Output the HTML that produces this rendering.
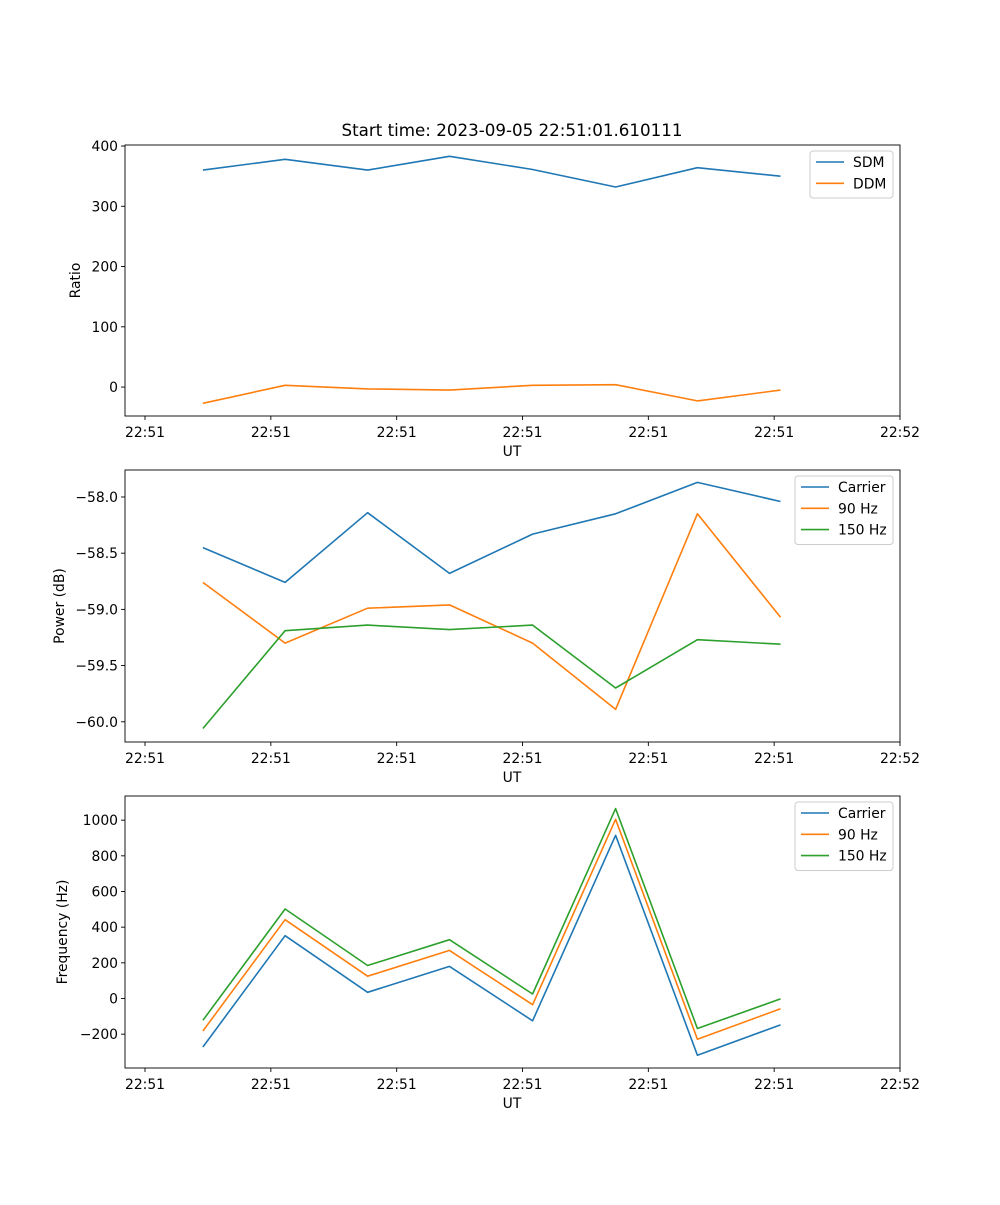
<!DOCTYPE html>
<html><head><meta charset="utf-8"><style>
body{margin:0;background:#fff}
svg text{font-family:"DejaVu Sans","Liberation Sans",sans-serif;font-size:13.9px;fill:#000}
</style></head><body>
<svg id="fig" width="1000" height="1200" viewBox="0 0 1000 1200" xmlns="http://www.w3.org/2000/svg">
<text x="512" y="136" text-anchor="middle" style="font-size:16.7px">Start time: 2023-09-05 22:51:01.610111</text>
</svg>
<script>
// time in seconds after 22:51:00
const times = [4.6, 11.13, 17.69, 24.2, 30.8, 37.4, 43.9, 50.5];
const xTickVals = [0, 10, 20, 30, 40, 50, 60];
const xTickLabels = ['22:51','22:51','22:51','22:51','22:51','22:51','22:52'];

const sdm = [360, 378, 360, 383, 361, 332, 364, 350];
const ddm = [-27, 3, -3, -5, 3, 4, -23, -5];
const ratioTicks = [0, 100, 200, 300, 400];
const ratioTickLabels = ['0','100','200','300','400'];

const powerCarrier = [-58.45, -58.76, -58.14, -58.68, -58.33, -58.15, -57.87, -58.04];
const power90 = [-58.76, -59.30, -58.99, -58.96, -59.30, -59.89, -58.15, -59.07];
const power150 = [-60.06, -59.19, -59.14, -59.18, -59.14, -59.70, -59.27, -59.31];
const powerTicks = [-60.0, -59.5, -59.0, -58.5, -58.0];
const powerTickLabels = ['\u221260.0','\u221259.5','\u221259.0','\u221258.5','\u221258.0'];

const freqCarrier = [-272, 352, 35, 180, -125, 915, -318, -148];
const freq90 = [-182, 442, 125, 270, -35, 1005, -228, -58];
const freq150 = [-122, 502, 185, 330, 25, 1065, -168, -2];
const freqTicks = [-200, 0, 200, 400, 600, 800, 1000];
const freqTickLabels = ['\u2212200','0','200','400','600','800','1000'];

const NS='http://www.w3.org/2000/svg';
const svg=document.getElementById('fig');
const L=125,R=900, X0=-1.59, X1=60.0;
const xs=v=>L+(v-X0)/(X1-X0)*(R-L);
function mk(tag,attrs,parent){const e=document.createElementNS(NS,tag);for(const k in attrs)e.setAttribute(k,attrs[k]);(parent||svg).appendChild(e);return e;}

function panel(id,top,bot,y0,y1,yTicks,yLabels,ylabel,ylabelX,series,legend){
  const g=mk('g',{});
  
  
  const ys=v=>bot-(v-y0)/(y1-y0)*(bot-top);
  series.forEach(s=>{
    const p=mk('polyline',{points:times.map((t,i)=>xs(t).toFixed(1)+','+ys(s.vals[i]).toFixed(1)).join(' '),fill:'none',stroke:s.color,'stroke-width':1.6,'stroke-linejoin':'round'},g);
    
    
  });
  const frame=mk('rect',{x:L,y:top,width:R-L,height:bot-top,fill:'none',stroke:'#000','stroke-width':0.9},g);
  
  
  xTickVals.forEach((v,i)=>{
    const x=xs(v);
    mk('line',{x1:x,x2:x,y1:bot,y2:bot+4,stroke:'#000','stroke-width':0.9},g);
    const t=mk('text',{x:x,y:bot+21,'text-anchor':'middle'},g);t.textContent=xTickLabels[i];
    
    
  });
  yTicks.forEach((v,i)=>{
    const y=ys(v);
    mk('line',{x1:L-4,x2:L,y1:y,y2:y,stroke:'#000','stroke-width':0.9},g);
    const t=mk('text',{x:L-7,y:y+5,'text-anchor':'end'},g);t.textContent=yLabels[i];
    
    
  });
  const xt=mk('text',{x:512,y:bot+40,'text-anchor':'middle'},g);xt.textContent='UT';
  
  
  const cy=(top+bot)/2;
  const yt=mk('text',{x:ylabelX,y:cy,'text-anchor':'middle',transform:'rotate(-90 '+ylabelX+' '+cy+')'},g);yt.textContent=ylabel;
  
  
  const lg=mk('g',{},g);
  
  
  mk('rect',{x:legend.x,y:top+6,width:R-7-legend.x,height:series.length*21.5+4,rx:3,fill:'#fff','fill-opacity':0.8,stroke:'#ccc','stroke-width':1},lg);
  series.forEach((s,i)=>{
    const y=top+17+i*21.3;
    mk('line',{x1:legend.x+6,x2:legend.x+34,y1:y,y2:y,stroke:s.color,'stroke-width':1.6},lg);
    const t=mk('text',{x:legend.x+43,y:y+5},lg);t.textContent=s.name;
    
    
  });
}
const C1='#1f77b4',C2='#ff7f0e',C3='#2ca02c';
panel('ratio',145,416,-48,401.7,ratioTicks,ratioTickLabels,'Ratio',80,
  [{key:'sdm',name:'SDM',vals:sdm,color:C1},{key:'ddm',name:'DDM',vals:ddm,color:C2}],{x:810});
panel('power',470,742,-60.18,-57.76,powerTicks,powerTickLabels,'Power (dB)',64,
  [{key:'carrier',name:'Carrier',vals:powerCarrier,color:C1},{key:'90hz',name:'90 Hz',vals:power90,color:C2},{key:'150hz',name:'150 Hz',vals:power150,color:C3}],{x:795});
panel('frequency',796,1068,-389.7,1135.5,freqTicks,freqTickLabels,'Frequency (Hz)',67,
  [{key:'carrier',name:'Carrier',vals:freqCarrier,color:C1},{key:'90hz',name:'90 Hz',vals:freq90,color:C2},{key:'150hz',name:'150 Hz',vals:freq150,color:C3}],{x:795});
</script>
</body></html>
